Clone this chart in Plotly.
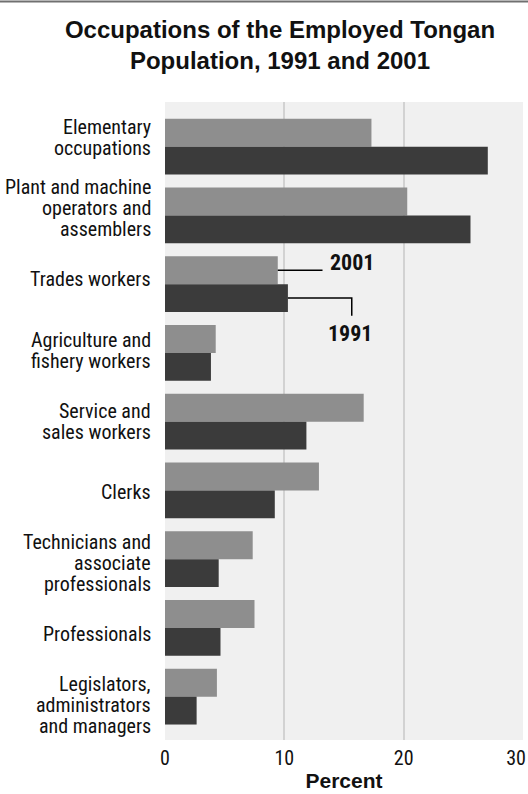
import plotly.graph_objects as go

# --- data ----------------------------------------------------------------
categories = [
    "Elementary<br>occupations",
    "Plant and machine<br>operators and<br>assemblers",
    "Trades workers",
    "Agriculture and<br>fishery workers",
    "Service and<br>sales workers",
    "Clerks",
    "Technicians and<br>associate<br>professionals",
    "Professionals",
    "Legislators,<br>administrators<br>and managers",
]
pct_2001 = [17.3, 20.3, 9.45, 4.25, 16.65, 12.9, 7.35, 7.5, 4.35]
pct_1991 = [27.05, 25.6, 10.3, 3.85, 11.85, 9.2, 4.5, 4.65, 2.65]
x_ticks = [0, 10, 20, 30]
x_title = "Percent"
title = "Occupations of the Employed Tongan<br>Population, 1991 and 2001"

# --- style ---------------------------------------------------------------
W, H = 528, 794
M = dict(l=165, r=5, t=102, b=54)
NARROW = "Roboto Condensed, Liberation Sans Narrow, Arial Narrow, sans-serif"
SANS = "Liberation Sans, Arial, sans-serif"
C_2001 = "#8e8e8e"
C_1991 = "#3b3b3b"
INK = "#111111"
BARGAP = 0.19
Y_RANGE = [8.63, -0.65]
LINE_H = 21

fig = go.Figure()
for name, vals, col in [("2001", pct_2001, C_2001), ("1991", pct_1991, C_1991)]:
    fig.add_trace(go.Bar(
        x=vals, y=list(range(len(categories))), orientation="h",
        name=name, marker=dict(color=col, line=dict(width=0)),
        hoverinfo="x+name",
    ))

# category labels: one annotation per line so the leading stays tight
n = len(categories)
annotations = []
for i, lab in enumerate(categories):
    lines = lab.split("<br>")
    for j, ln in enumerate(lines):
        annotations.append(dict(
            text=ln, xref="paper", x=0, xanchor="right", xshift=-12,
            yref="paper", y=1 - (i + 0.5) / n, yanchor="middle",
            yshift=((len(lines) - 1) / 2 - j) * LINE_H,
            showarrow=False, font=dict(family=NARROW, size=20, color=INK),
        ))

# callouts on the Trades workers bars
k = categories.index("Trades workers")
off = (1 - BARGAP) / 4
y01, y91 = k - off, k + off
shapes = [
    dict(type="line", xref="x", yref="y", x0=pct_2001[k], x1=13.2, y0=y01, y1=y01,
         line=dict(color="black", width=1.5)),
    dict(type="path", xref="x", yref="y",
         path=f"M{pct_1991[k]},{y91} L15.65,{y91} L15.65,{k + 0.46}",
         line=dict(color="black", width=1.5)),
    # thin rule across the very top of the page
    dict(type="line", xref="paper", yref="paper",
         x0=-M["l"] / (W - M["l"] - M["r"]), x1=(W - M["l"]) / (W - M["l"] - M["r"]),
         y0=1 + (M["t"] - 1.5) / (H - M["t"] - M["b"]),
         y1=1 + (M["t"] - 1.5) / (H - M["t"] - M["b"]),
         line=dict(color="#707070", width=2)),
]
annotations += [
    dict(text="<b>2001</b>", xref="x", yref="y", x=13.7, y=k - 0.31, xanchor="left",
         yanchor="middle", showarrow=False, font=dict(family=NARROW, size=22, color=INK)),
    dict(text="<b>1991</b>", xref="x", yref="y", x=15.5, y=k + 0.71, xanchor="center",
         yanchor="middle", showarrow=False, font=dict(family=NARROW, size=22, color=INK)),
]

# last tick label sits a little inside the right edge in the original
tick_text = [str(t) for t in x_ticks]
tick_text[-1] += "&nbsp;&nbsp;&nbsp;"

fig.update_layout(
    width=W, height=H, margin=M,
    paper_bgcolor="white", plot_bgcolor="#f0f0f0",
    barmode="group", bargap=BARGAP, bargroupgap=0,
    showlegend=False,
    title=dict(text=f"<b>{title}</b>", x=280 / W, xanchor="center",
               y=1 - 38 / H, yanchor="middle",
               font=dict(family=SANS, size=24, color=INK)),
    xaxis=dict(range=[0, 30], tickvals=x_ticks, ticktext=tick_text,
               showgrid=True, gridcolor="#d2d2d2", gridwidth=2, zeroline=False,
               showline=False, ticks="", ticklabelstandoff=4, automargin=False,
               ticklabeloverflow="allow",
               tickfont=dict(family=NARROW, size=20, color=INK),
               title=dict(text=f"<b>{x_title}</b>", standoff=4,
                          font=dict(family=SANS, size=21, color=INK))),
    yaxis=dict(range=Y_RANGE, showticklabels=False, showgrid=False, zeroline=False,
               showline=False, ticks="", automargin=False),
    shapes=shapes, annotations=annotations,
)

# drop the browser's default 8px body margin so the figure sits at (0, 0)
fig.write_html("out.html", config={"displayModeBar": False},
               post_script="document.body.style.margin='0';document.body.style.overflow='hidden';")
